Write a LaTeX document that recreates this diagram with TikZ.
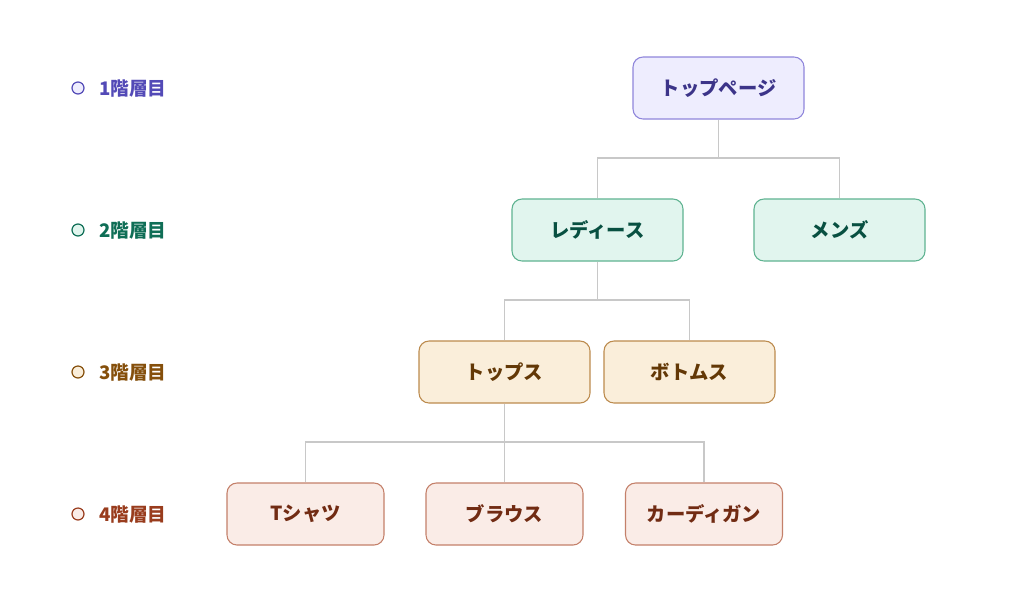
\documentclass[tikz,border=0pt]{standalone}
\usepackage{fontspec}
\setmainfont{Noto Sans CJK JP}
\definecolor{pfill}{HTML}{EEEDFE}\definecolor{pline}{HTML}{8F86DB}\definecolor{ptext}{HTML}{3C3489}\definecolor{plegend}{HTML}{534AB7}
\definecolor{tfill}{HTML}{E1F5EE}\definecolor{tline}{HTML}{5FB391}\definecolor{ttext}{HTML}{085041}\definecolor{tlegend}{HTML}{0F6E56}
\definecolor{afill}{HTML}{FAEEDA}\definecolor{aline}{HTML}{BC8B4E}\definecolor{atext}{HTML}{633806}\definecolor{alegend}{HTML}{854F0B}
\definecolor{cfill}{HTML}{FAECE7}\definecolor{cline}{HTML}{C4806A}\definecolor{ctext}{HTML}{712B13}\definecolor{clegend}{HTML}{993C1D}
\definecolor{conn}{HTML}{C8C8C8}
\begin{document}
\begin{tikzpicture}[x=0.75pt,y=-0.75pt,
  box/.style={rounded corners=7.5pt, line width=0.8pt, minimum height=46.5pt, inner sep=0pt, font=\fontsize{14.5}{16}\selectfont\bfseries},
  wide/.style={box, minimum width=128.25pt},
  narrow/.style={box, minimum width=117.75pt},
  lv1/.style={fill=pfill, draw=pline, text=ptext},
  lv2/.style={fill=tfill, draw=tline, text=ttext},
  lv3/.style={fill=afill, draw=aline, text=atext},
  lv4/.style={fill=cfill, draw=cline, text=ctext},
  dot/.style={circle, minimum size=9pt, inner sep=0pt, line width=0.9pt},
  legend/.style={anchor=west, inner sep=0pt, font=\fontsize{14}{16}\selectfont\bfseries},
  link/.style={draw=conn, line width=0.8pt}]
\useasboundingbox (0,0) rectangle (1024,597);
\fill[white] (0,0) rectangle (1024,597);
% legend
\node[dot, fill=pfill, draw=plegend] (d1) at (78,88) {};
\node[legend, text=plegend] (l1) at (99,89) {1階層目};
\node[dot, fill=tfill, draw=tlegend] (d2) at (78,230) {};
\node[legend, text=tlegend] (l2) at (99,231) {2階層目};
\node[dot, fill=afill, draw=alegend] (d3) at (78,372) {};
\node[legend, text=alegend] (l3) at (99,373) {3階層目};
\node[dot, fill=cfill, draw=clegend] (d4) at (78,514) {};
\node[legend, text=clegend] (l4) at (99,515) {4階層目};
% junction points
\coordinate (j1) at (718.5,158);
\coordinate (j2) at (597.5,300);
\coordinate (j3) at (504.5,442);
% nodes
\node[wide, lv1] (top) at (718.5,88) {トップページ};
\node[wide, lv2] (ladies) at (597.5,230) {レディース};
\node[wide, lv2] (mens) at (839.5,230) {メンズ};
\node[wide, lv3] (tops) at (504.5,372) {トップス};
\node[wide, lv3] (bottoms) at (689.5,372) {ボトムス};
\node[narrow, lv4] (tshirt) at (305.5,514) {Tシャツ};
\node[narrow, lv4] (blouse) at (504.5,514) {ブラウス};
\node[narrow, lv4] (cardigan) at (704,514) {カーディガン};
% connectors
\path[link] (top.south) -- (j1);
\path[link] (j1) -| (ladies.north);
\path[link] (j1) -| (mens.north);
\path[link] (ladies.south) -- (j2);
\path[link] (j2) -| (tops.north);
\path[link] (j2) -| (bottoms.north);
\path[link] (tops.south) -- (j3);
\path[link] (j3) -| (tshirt.north);
\path[link] (j3) -| (blouse.north);
\path[link] (j3) -| (cardigan.north);
\end{tikzpicture}
\end{document}
